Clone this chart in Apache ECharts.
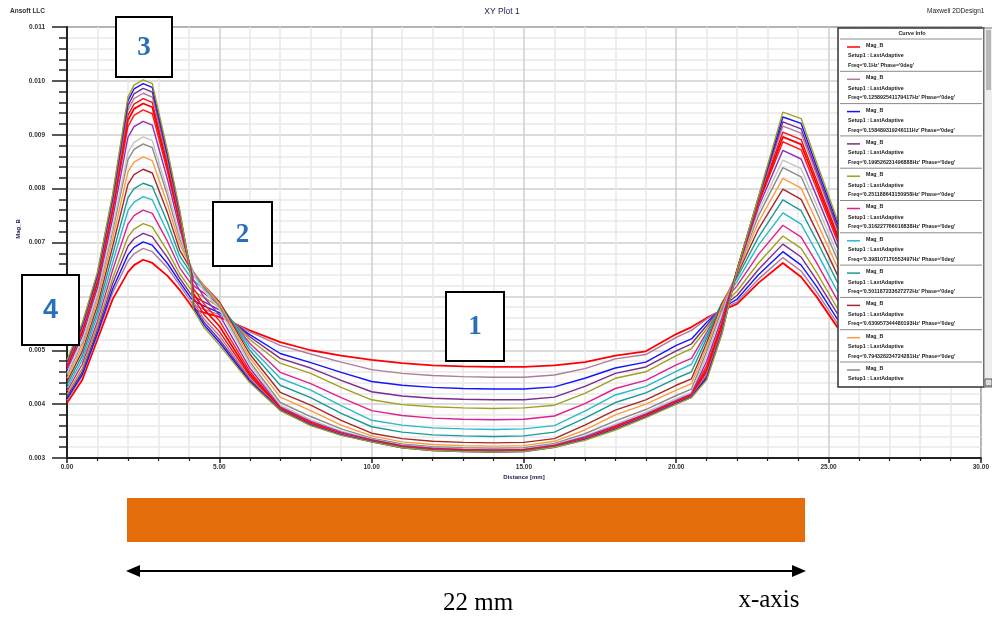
<!DOCTYPE html>
<html>
<head>
<meta charset="utf-8">
<script src="https://cdn.jsdelivr.net/npm/echarts@6/dist/echarts.min.js"></script>
<style>
  html, body { margin: 0; padding: 0; background: #fff; }
  #chart { width: 992px; height: 617px; }
</style>
</head>
<body>
<div id="chart"></div>
<script>
// Sample positions along the line (mm)
const distanceMm = [0, 0.5, 1, 1.5, 2, 2.2, 2.5, 2.8, 3.3, 3.7, 4.05, 4.15, 4.5, 5, 6, 7, 8, 9, 10, 11, 12, 13, 14, 15, 16, 17, 18, 19, 20, 20.5, 21, 21.5, 22, 22.7, 23.5, 24.1, 24.6, 25.3];

// Mag_B per frequency, in units of 1e-3 (multiplied by 0.001 when plotted)
const magB01 = [4.02, 4.45, 5.2, 5.95, 6.45, 6.58, 6.68, 6.62, 6.38, 6.12, 5.85, 5.76, 5.7, 5.62, 5.37, 5.15, 5.0, 4.9, 4.82, 4.76, 4.72, 4.70, 4.69, 4.69, 4.72, 4.78, 4.9, 4.98, 5.3, 5.43, 5.6, 5.74, 5.86, 6.25, 6.62, 6.36, 6.0, 5.42];
const magB02 = [4.07, 4.52, 5.28, 6.07, 6.65, 6.79, 6.89, 6.83, 6.53, 6.21, 5.92, 5.84, 5.76, 5.66, 5.34, 5.09, 4.93, 4.78, 4.64, 4.57, 4.53, 4.51, 4.50, 4.50, 4.54, 4.66, 4.84, 4.92, 5.24, 5.37, 5.58, 5.76, 5.9, 6.32, 6.72, 6.47, 6.09, 5.49];
const magB03 = [4.10, 4.55, 5.32, 6.14, 6.77, 6.91, 7.01, 6.95, 6.61, 6.27, 5.98, 5.92, 5.82, 5.7, 5.29, 4.94, 4.77, 4.59, 4.42, 4.35, 4.31, 4.29, 4.28, 4.28, 4.32, 4.48, 4.67, 4.78, 5.09, 5.21, 5.52, 5.78, 5.95, 6.4, 6.83, 6.58, 6.19, 5.57];
const magB04 = [4.14, 4.60, 5.38, 6.24, 6.93, 7.07, 7.17, 7.11, 6.72, 6.34, 6.05, 6.0, 5.9, 5.75, 5.25, 4.85, 4.67, 4.44, 4.23, 4.15, 4.11, 4.09, 4.08, 4.08, 4.13, 4.33, 4.57, 4.69, 4.99, 5.12, 5.46, 5.8, 6.02, 6.5, 6.97, 6.73, 6.31, 5.67];
const magB05 = [4.18, 4.66, 5.45, 6.34, 7.10, 7.25, 7.35, 7.29, 6.84, 6.42, 6.14, 6.1, 5.98, 5.8, 5.2, 4.76, 4.57, 4.31, 4.08, 3.99, 3.95, 3.93, 3.92, 3.93, 3.98, 4.20, 4.48, 4.60, 4.90, 5.03, 5.4, 5.83, 6.1, 6.62, 7.12, 6.89, 6.45, 5.77];
const magB06 = [4.24, 4.74, 5.54, 6.49, 7.34, 7.50, 7.60, 7.54, 7.02, 6.53, 6.25, 6.2, 6.06, 5.84, 5.13, 4.59, 4.38, 4.12, 3.88, 3.79, 3.74, 3.72, 3.71, 3.72, 3.78, 4.01, 4.29, 4.44, 4.73, 4.85, 5.33, 5.86, 6.2, 6.78, 7.32, 7.10, 6.63, 5.92];
const magB07 = [4.30, 4.82, 5.64, 6.63, 7.59, 7.75, 7.85, 7.79, 7.19, 6.64, 6.36, 6.3, 6.13, 5.88, 5.07, 4.48, 4.26, 3.97, 3.70, 3.61, 3.56, 3.54, 3.53, 3.54, 3.60, 3.87, 4.17, 4.33, 4.61, 4.74, 5.28, 5.88, 6.28, 6.95, 7.55, 7.34, 6.83, 6.08];
const magB08 = [4.36, 4.90, 5.73, 6.78, 7.83, 8.0, 8.10, 8.04, 7.37, 6.75, 6.45, 6.38, 6.18, 5.9, 5.0, 4.35, 4.12, 3.83, 3.58, 3.48, 3.43, 3.41, 3.40, 3.41, 3.48, 3.74, 4.03, 4.21, 4.48, 4.60, 5.22, 5.88, 6.35, 7.1, 7.79, 7.59, 7.05, 6.25];
const magB09 = [4.42, 4.98, 5.83, 6.93, 8.08, 8.26, 8.36, 8.29, 7.55, 6.86, 6.52, 6.44, 6.2, 5.9, 4.93, 4.22, 3.98, 3.70, 3.46, 3.36, 3.31, 3.29, 3.28, 3.29, 3.36, 3.61, 3.89, 4.08, 4.35, 4.47, 5.14, 5.86, 6.4, 7.25, 7.99, 7.80, 7.22, 6.39];
const magB10 = [4.48, 5.05, 5.92, 7.07, 8.31, 8.49, 8.59, 8.52, 7.71, 6.97, 6.56, 6.46, 6.2, 5.87, 4.86, 4.13, 3.88, 3.61, 3.41, 3.30, 3.25, 3.23, 3.22, 3.23, 3.31, 3.52, 3.80, 4.0, 4.26, 4.38, 5.06, 5.82, 6.44, 7.38, 8.19, 8.01, 7.40, 6.53];
const magB11 = [4.54, 5.13, 6.01, 7.21, 8.54, 8.73, 8.83, 8.76, 7.87, 7.07, 6.58, 6.45, 6.16, 5.82, 4.79, 4.03, 3.77, 3.54, 3.37, 3.26, 3.21, 3.19, 3.18, 3.19, 3.27, 3.45, 3.69, 3.90, 4.16, 4.28, 4.98, 5.75, 6.46, 7.5, 8.39, 8.22, 7.58, 6.67];
const magB12 = [4.57, 5.17, 6.05, 7.28, 8.67, 8.86, 8.96, 8.89, 7.97, 7.13, 6.58, 6.4, 6.1, 5.76, 4.74, 3.98, 3.71, 3.50, 3.35, 3.24, 3.19, 3.17, 3.16, 3.17, 3.25, 3.41, 3.63, 3.85, 4.10, 4.22, 4.9, 5.68, 6.47, 7.58, 8.53, 8.37, 7.71, 6.77];
const magB13 = [4.64, 5.26, 6.16, 7.45, 8.95, 9.15, 9.25, 9.18, 8.17, 7.26, 6.55, 6.3, 5.98, 5.66, 4.67, 3.95, 3.68, 3.48, 3.34, 3.23, 3.18, 3.16, 3.15, 3.16, 3.24, 3.39, 3.60, 3.82, 4.07, 4.19, 4.8, 5.6, 6.48, 7.66, 8.71, 8.55, 7.87, 6.90];
const magB14 = [4.69, 5.32, 6.24, 7.57, 9.15, 9.36, 9.46, 9.39, 8.31, 7.35, 6.53, 6.15, 5.86, 5.55, 4.61, 3.93, 3.66, 3.46, 3.33, 3.22, 3.17, 3.15, 3.14, 3.15, 3.23, 3.37, 3.58, 3.80, 4.05, 4.17, 4.72, 5.52, 6.49, 7.72, 8.87, 8.72, 8.01, 7.01];
const magB15 = [4.71, 5.36, 6.29, 7.64, 9.27, 9.48, 9.58, 9.51, 8.39, 7.40, 6.51, 6.05, 5.76, 5.45, 4.56, 3.92, 3.64, 3.45, 3.32, 3.21, 3.16, 3.14, 3.13, 3.14, 3.22, 3.36, 3.56, 3.79, 4.04, 4.16, 4.65, 5.46, 6.49, 7.75, 8.96, 8.82, 8.09, 7.08];
const magB16 = [4.74, 5.39, 6.32, 7.70, 9.36, 9.57, 9.67, 9.60, 8.46, 7.44, 6.5, 5.97, 5.66, 5.35, 4.52, 3.91, 3.63, 3.44, 3.32, 3.21, 3.16, 3.14, 3.13, 3.14, 3.22, 3.35, 3.55, 3.78, 4.03, 4.15, 4.6, 5.41, 6.5, 7.78, 9.05, 8.91, 8.17, 7.14];
const magB17 = [4.76, 5.42, 6.36, 7.75, 9.46, 9.67, 9.77, 9.70, 8.53, 7.49, 6.49, 5.9, 5.58, 5.27, 4.48, 3.90, 3.62, 3.44, 3.31, 3.20, 3.15, 3.13, 3.12, 3.13, 3.21, 3.35, 3.54, 3.77, 4.02, 4.14, 4.55, 5.37, 6.5, 7.8, 9.16, 9.03, 8.27, 7.22];
const magB18 = [4.78, 5.45, 6.39, 7.81, 9.54, 9.76, 9.86, 9.79, 8.59, 7.53, 6.48, 5.84, 5.52, 5.2, 4.45, 3.89, 3.61, 3.43, 3.31, 3.20, 3.15, 3.13, 3.12, 3.13, 3.21, 3.34, 3.53, 3.76, 4.01, 4.13, 4.51, 5.34, 6.5, 7.82, 9.24, 9.11, 8.34, 7.27];
const magB19 = [4.80, 5.48, 6.42, 7.86, 9.63, 9.85, 9.95, 9.88, 8.65, 7.57, 6.47, 5.79, 5.47, 5.15, 4.42, 3.89, 3.61, 3.43, 3.30, 3.19, 3.14, 3.12, 3.11, 3.12, 3.20, 3.34, 3.53, 3.76, 4.01, 4.13, 4.48, 5.32, 6.5, 7.84, 9.33, 9.21, 8.42, 7.34];
const magB20 = [4.82, 5.5, 6.45, 7.9, 9.7, 9.92, 10.02, 9.95, 8.7, 7.6, 6.45, 5.75, 5.42, 5.1, 4.4, 3.88, 3.6, 3.42, 3.3, 3.19, 3.14, 3.12, 3.11, 3.12, 3.2, 3.33, 3.52, 3.75, 4.0, 4.12, 4.45, 5.3, 6.5, 7.85, 9.42, 9.3, 8.5, 7.4];

const freqLabels = ['0.1Hz', '0.125892541179417Hz', '0.158489319246111Hz', '0.199526231496888Hz',
  '0.251188643150958Hz', '0.316227766016838Hz', '0.398107170553497Hz', '0.501187233627272Hz',
  '0.630957344480193Hz', '0.794328234724281Hz', '1Hz', '1.25892541179417Hz', '1.58489319246111Hz',
  '1.99526231496888Hz', '2.51188643150958Hz', '3.16227766016838Hz', '3.98107170553497Hz',
  '5.01187233627272Hz', '6.30957344480193Hz', '7.94328234724281Hz'];

const curveColors = ['#ff0000', '#b07a9c', '#1414ff', '#7d2a8c', '#a0a020', '#e0208f', '#2bb8cc',
  '#1a9a98', '#a52828', '#ff9a3c', '#8a8a8a', '#c4c4c4', '#8e2fc0', '#ff1a1a', '#ff0000',
  '#ee1111', '#b07a9c', '#7d2a8c', '#1414ff', '#a0a020'];

const yTicks = { min: 0.003, max: 0.011, step: 0.001 };
const xTicks = { min: 0, max: 30, step: 5 };

const magBSets = [magB01, magB02, magB03, magB04, magB05, magB06, magB07, magB08, magB09, magB10,
  magB11, magB12, magB13, magB14, magB15, magB16, magB17, magB18, magB19, magB20];

const series = magBSets.map((vals, i) => ({
  type: 'line',
  name: "Mag_B Freq='" + freqLabels[i] + "'",
  data: distanceMm.map((x, j) => [x, vals[j] * 0.001]),
  showSymbol: false,
  silent: true,
  animation: false,
  z: 2 + i * 0.01,
  lineStyle: { color: curveColors[i], width: curveColors[i] === '#ff0000' ? 1.8 : 1.4 }
}));

// ---- legend panel ("Curve Info") drawn as graphic elements ----
const LG = { x: 838, y: 28, w: 146, h: 359, head: 11, row: 32.3 };
const legendEls = [];
legendEls.push({ type: 'rect', shape: { x: LG.x, y: LG.y, width: LG.w, height: LG.h },
  style: { fill: '#fff', stroke: '#333', lineWidth: 1.5 }, z: 100 });
legendEls.push({ type: 'text', x: LG.x + 74, y: LG.y + 5, z: 101,
  style: { text: 'Curve Info', font: 'bold 5.5px "Liberation Sans"', fill: '#222',
    textAlign: 'center', textVerticalAlign: 'middle' } });
const shownEntries = 11;
for (let i = 0; i <= shownEntries - 1; i++) {
  const top = LG.y + LG.head + LG.row * i;
  legendEls.push({ type: 'line', z: 101,
    shape: { x1: LG.x + 2, y1: top, x2: LG.x + LG.w - 2, y2: top },
    style: { stroke: '#8a8a8a', lineWidth: 1 } });
  legendEls.push({ type: 'line', z: 101,
    shape: { x1: LG.x + 9, y1: top + 8, x2: LG.x + 22, y2: top + 8 },
    style: { stroke: curveColors[i], lineWidth: 1.5 } });
  const lines = ['Mag_B', 'Setup1 : LastAdaptive', "Freq='" + freqLabels[i] + "' Phase='0deg'"];
  const offs = [[28, 6.5], [10, 17], [10, 26.5]];
  lines.forEach((t, k) => {
    const ty = top + offs[k][1];
    if (ty > LG.y + LG.h - 4) return;
    legendEls.push({ type: 'text', x: LG.x + offs[k][0], y: ty, z: 101,
      style: { text: t, font: 'bold 5.3px "Liberation Sans"', fill: '#1a1a1a', textVerticalAlign: 'middle' } });
  });
}
// scroll bar on the right side of the panel
legendEls.push({ type: 'rect', z: 101, shape: { x: LG.x + LG.w, y: LG.y, width: 9, height: LG.h },
  style: { fill: '#eeeeee', stroke: '#777', lineWidth: 1 } });
legendEls.push({ type: 'rect', z: 102, shape: { x: LG.x + LG.w + 2, y: LG.y + 2, width: 5, height: 60 },
  style: { fill: '#b8b8b8' } });
legendEls.push({ type: 'rect', z: 102, shape: { x: LG.x + LG.w + 1, y: LG.y + LG.h - 8, width: 7, height: 7 },
  style: { fill: '#ddd', stroke: '#555', lineWidth: 1 } });

// ---- numbered callouts ----
function callout(x, y, w, h, label, family) {
  return [
    { type: 'rect', z: 110, shape: { x: x, y: y, width: w, height: h },
      style: { fill: '#fff', stroke: '#000', lineWidth: 2 } },
    { type: 'text', z: 111, x: x + w / 2, y: y + h / 2 + 1,
      style: { text: label, font: 'bold 27px ' + family, fill: '#2a70b8',
        textAlign: 'center', textVerticalAlign: 'middle' } }
  ];
}
const serif = '"Liberation Serif", "DejaVu Serif", serif';
const sans = '"Liberation Sans", Arial, sans-serif';
const callouts = [].concat(
  callout(116, 17, 56, 60, '3', serif),
  callout(213, 202, 59, 64, '2', serif),
  callout(22, 275, 57, 70, '4', sans),
  callout(446, 292, 58, 69, '1', serif)
);

// ---- conductor bar and dimension arrow below the plot ----
const below = [
  { type: 'rect', z: 50, shape: { x: 127, y: 498, width: 678, height: 44 }, style: { fill: '#e46c0a' } },
  { type: 'line', z: 50, shape: { x1: 136, y1: 571, x2: 796, y2: 571 }, style: { stroke: '#000', lineWidth: 2 } },
  { type: 'polygon', z: 50, shape: { points: [[126, 571], [140, 565], [140, 577]] }, style: { fill: '#000' } },
  { type: 'polygon', z: 50, shape: { points: [[806, 571], [792, 565], [792, 577]] }, style: { fill: '#000' } },
  { type: 'text', z: 50, x: 478, y: 603, style: { text: '22 mm', font: '25px "Liberation Serif"', fill: '#000',
    textAlign: 'center', textVerticalAlign: 'middle' } },
  { type: 'text', z: 50, x: 769, y: 600, style: { text: 'x-axis', font: '25px "Liberation Serif"', fill: '#000',
    textAlign: 'center', textVerticalAlign: 'middle' } }
];

// ---- header texts and axis names ----
const headers = [
  { type: 'text', z: 50, x: 10, y: 11, style: { text: 'Ansoft LLC', font: 'bold 6.5px "Liberation Sans"', fill: '#333', textVerticalAlign: 'middle' } },
  { type: 'text', z: 50, x: 502, y: 12, style: { text: 'XY Plot 1', font: '8.5px "Liberation Sans"', fill: '#1b1b55', textAlign: 'center', textVerticalAlign: 'middle' } },
  { type: 'text', z: 50, x: 927, y: 11, style: { text: 'Maxwell 2DDesign1', font: '6.5px "Liberation Sans"', fill: '#222', textVerticalAlign: 'middle' } },
  { type: 'text', z: 50, x: 18, y: 229, rotation: Math.PI / 2, style: { text: 'Mag_B', font: 'bold 6px "Liberation Sans"', fill: '#1a1a4a', textAlign: 'center', textVerticalAlign: 'middle' } },
  { type: 'text', z: 50, x: 524, y: 477, style: { text: 'Distance [mm]', font: 'bold 6px "Liberation Sans"', fill: '#1a1a4a', textAlign: 'center', textVerticalAlign: 'middle' } }
];

const chart = echarts.init(document.getElementById('chart'), null, { renderer: 'canvas' });
chart.setOption({
  backgroundColor: '#fff',
  animation: false,
  grid: { left: 67, top: 27, width: 919, height: 431, show: true, borderColor: '#333', borderWidth: 1.5 },
  xAxis: {
    type: 'value', min: xTicks.min, max: xTicks.max, interval: xTicks.step,
    axisLine: { onZero: false, lineStyle: { color: '#222', width: 2 } },
    axisTick: { length: 5, lineStyle: { color: '#222', width: 1.5 } },
    minorTick: { show: true, splitNumber: 5, length: 3, lineStyle: { color: '#222', width: 1.2 } },
    axisLabel: { formatter: v => v.toFixed(2), fontSize: 6.5, color: '#333', margin: 6, fontFamily: 'Liberation Sans', fontWeight: 'bold' },
    splitLine: { show: true, lineStyle: { color: '#cfcfcf', width: 1.5 } },
    minorSplitLine: { show: true, lineStyle: { color: '#e9e9e9', width: 1.5 } }
  },
  yAxis: {
    type: 'value', min: yTicks.min, max: yTicks.max, interval: yTicks.step,
    axisLine: { show: true, lineStyle: { color: '#222', width: 2 } },
    axisTick: { show: true, length: 15, lineStyle: { color: '#222', width: 1.5 } },
    minorTick: { show: true, splitNumber: 5, length: 8, lineStyle: { color: '#222', width: 1.5 } },
    axisLabel: { formatter: v => v.toFixed(3), fontSize: 6.5, color: '#333', margin: 22, fontFamily: 'Liberation Sans', fontWeight: 'bold' },
    splitLine: { show: true, lineStyle: { color: '#cfcfcf', width: 1.5 } },
    minorSplitLine: { show: true, lineStyle: { color: '#e9e9e9', width: 1.5 } }
  },
  series: series,
  graphic: { elements: [].concat(headers, legendEls, callouts, below) }
});
</script>
</body>
</html>
